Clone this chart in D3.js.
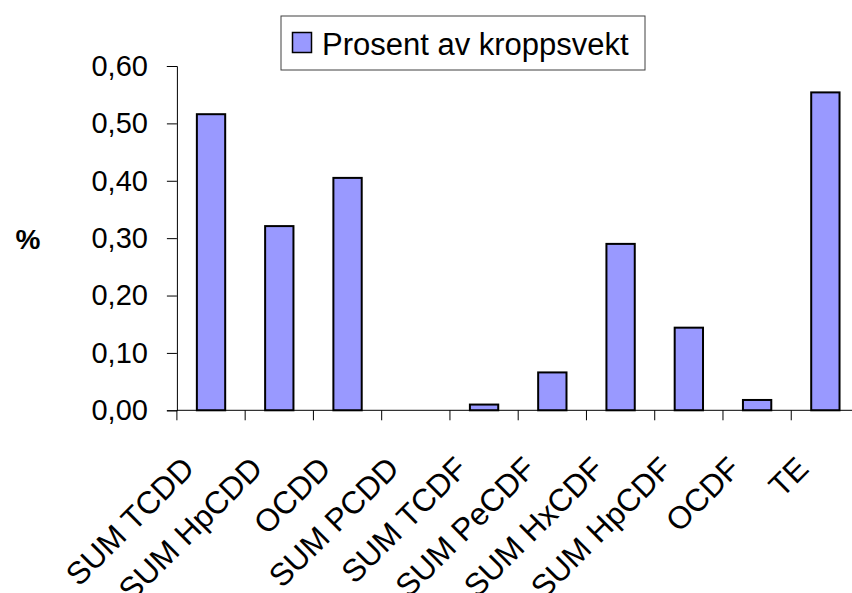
<!DOCTYPE html>
<html>
<head>
<meta charset="utf-8">
<script src="https://cdn.jsdelivr.net/npm/d3@7/dist/d3.min.js"></script>
<style>
  html, body { margin: 0; padding: 0; background: #fff; }
  svg { display: block; font-family: "Liberation Sans", Arial, sans-serif; }
</style>
</head>
<body>
<svg id="chart" width="852" height="593"></svg>
<script>
// Congener groups along the x axis
const categories = ["SUM TCDD", "SUM HpCDD", "OCDD", "SUM PCDD", "SUM TCDF",
                    "SUM PeCDF", "SUM HxCDF", "SUM HpCDF", "OCDF", "TE"];
// Percentage of body weight per group
const values = [0.516, 0.321, 0.405, 0.0, 0.010, 0.066, 0.290, 0.144, 0.018, 0.554];
const yTicks = [0, 0.1, 0.2, 0.3, 0.4, 0.5, 0.6];
const seriesName = "Prosent av kroppsvekt";
const yTitle = "%";

const svg = d3.select("#chart");
const barFill = "#9999FF";

const x = d3.scaleBand().domain(categories).range([176.9, 859.5]).paddingInner(0).paddingOuter(0);
const y = d3.scaleLinear().domain([0, 0.6]).range([410.3, 66]);

const fmt = v => d3.format(".2f")(v).replace(".", ",");

// Y axis
const yAxis = svg.append("g")
  .attr("transform", `translate(${x.range()[0]},0)`)
  .call(d3.axisLeft(y).tickValues(yTicks).tickFormat(fmt).tickSize(10).tickPadding(19));
yAxis.select(".domain").attr("stroke", "#000").attr("stroke-width", 1);
yAxis.selectAll(".tick line").attr("stroke", "#000");
yAxis.selectAll(".tick text")
  .attr("font-size", 29).attr("fill", "#000")
  .attr("font-family", "'Liberation Sans', Arial, sans-serif");

// Bars
const barW = x.bandwidth() * 0.415;
svg.append("g").selectAll("rect")
  .data(categories.map((c, i) => ({ c, v: values[i] })))
  .join("rect")
  .attr("x", d => x(d.c) + (x.bandwidth() - barW) / 2)
  .attr("y", d => y(d.v))
  .attr("width", barW)
  .attr("height", d => y(0) - y(d.v))
  .attr("fill", barFill)
  .attr("stroke", d => d.v > 0 ? "#000" : "none")
  .attr("stroke-width", 2);

// X axis line with ticks at category boundaries
const xa = svg.append("g");
xa.append("line")
  .attr("x1", x.range()[0]).attr("x2", x.range()[1])
  .attr("y1", y(0)).attr("y2", y(0))
  .attr("stroke", "#000").attr("stroke-width", 1);
const bounds = categories.map(c => x(c)).concat([x.range()[1]]);
xa.selectAll("line.tk").data(bounds).join("line")
  .attr("class", "tk")
  .attr("x1", d => d).attr("x2", d => d)
  .attr("y1", y(0)).attr("y2", y(0) + 10)
  .attr("stroke", "#000").attr("stroke-width", 1);

// Rotated category labels
xa.selectAll("text").data(categories).join("text")
  .attr("text-anchor", "end")
  .attr("font-size", 31.5)
  .attr("fill", "#000")
  .attr("transform", c => `translate(${x(c) + x.bandwidth() / 2 - 15},${y(0) + 60}) rotate(-45)`)
  .text(c => c);

// Y axis title
svg.append("text")
  .attr("x", 28).attr("y", 249)
  .attr("text-anchor", "middle")
  .attr("font-size", 28).attr("font-weight", "bold")
  .text(yTitle);

// Legend
const lg = svg.append("g");
lg.append("rect")
  .attr("x", 281).attr("y", 16).attr("width", 364).attr("height", 54)
  .attr("fill", "#fff").attr("stroke", "#404040").attr("stroke-width", 1);
lg.append("rect")
  .attr("x", 292.5).attr("y", 32.5).attr("width", 19).attr("height", 20)
  .attr("fill", barFill).attr("stroke", "#000").attr("stroke-width", 1.5);
lg.append("text")
  .attr("x", 322).attr("y", 55)
  .attr("font-size", 31).attr("fill", "#000")
  .text(seriesName);
</script>
</body>
</html>
